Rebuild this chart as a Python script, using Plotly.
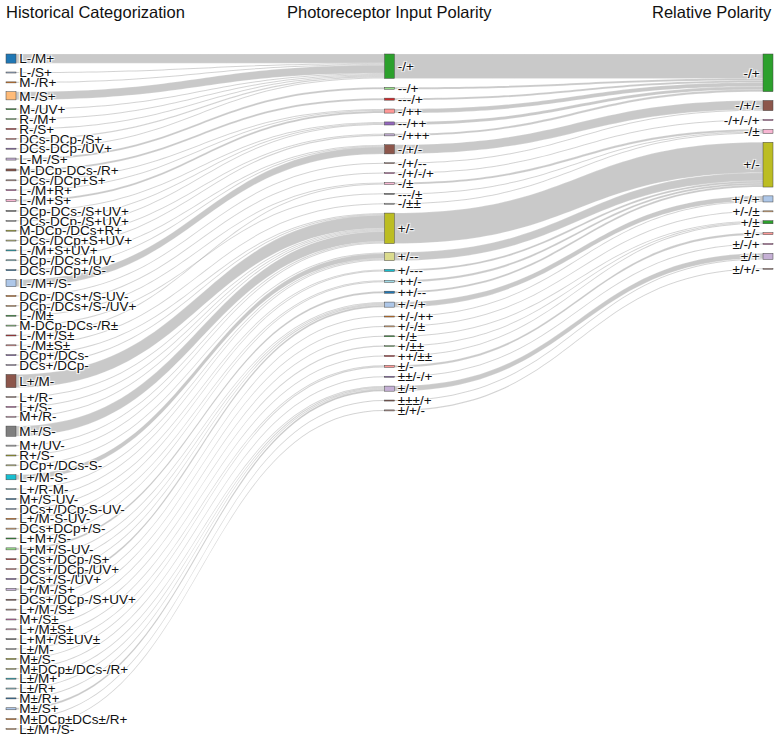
import plotly.graph_objects as go

left_labels = [
    "L-/M+", "L-/S+", "M-/R+", "M-/S+", "M-/UV+", "R-/M+", "R-/S+", "DCs-DCp-/S+",
    "DCs-DCp-/UV+", "L-M-/S+", "M-DCp-DCs-/R+", "DCs-/DCp+S+", "L-/M+R+", "L-/M+S+",
    "DCp-DCs-/S+UV+", "DCs-DCp-/S+UV+", "M-DCp-/DCs+R+", "DCs-/DCp+S+UV+", "L-/M+S+UV+",
    "DCp-/DCs+/UV-", "DCs-/DCp+/S-", "L-/M+/S-", "DCp-/DCs+/S-UV-", "DCp-/DCs+/S-/UV+",
    "L-/M±", "M-DCp-DCs-/R±", "L-/M+/S±", "L-/M±S±", "DCp+/DCs-", "DCs+/DCp-",
    "L+/M-", "L+/R-", "L+/S-", "M+/R-", "M+/S-", "M+/UV-", "R+/S-", "DCp+/DCs-S-",
    "L+/M-S-", "L+/R-M-", "M+/S-UV-", "DCs+/DCp-S-UV-", "L+/M-S-UV-", "DCs+DCp+/S-",
    "L+M+/S-", "L+M+/S-UV-", "DCs+/DCp-/S+", "DCs+/DCp-/UV+", "DCs+/S-/UV+", "L+/M-/S+",
    "DCs+/DCp-/S+UV+", "L+/M-/S±", "M+/S±", "L+/M±S±", "L+M+/S±UV±", "L±/M-", "M±/S-",
    "M±DCp±/DCs-/R+", "L±/M+", "L±/R+", "M±/R+", "M±/S+", "M±DCp±DCs±/R+", "L±/M+/S-",
]
left_values = [
    9, 1, 1, 8, 1, 1, 1, 1,
    1, 2, 2, 1, 1, 2,
    1, 1, 1, 1, 1,
    1, 1, 7, 1, 1,
    1, 1, 1, 1, 1, 1,
    13, 1, 1, 1, 10, 1, 1, 1,
    5, 1, 1, 1, 1, 1,
    1, 2, 1, 1, 1, 2,
    1, 1, 1, 1, 1, 1, 1,
    1, 1, 1, 1, 2, 1, 1,
]
left_targets = [
    "-/+", "-/+", "-/+", "-/+", "-/+", "-/+", "-/+", "-/+",
    "-/+", "--/+", "---/+", "-/++", "-/++", "-/++",
    "--/++", "--/++", "--/++", "-/+++", "-/+++",
    "-/+/-", "-/+/-", "-/+/-", "-/+/--", "-/+/-/+",
    "-/±", "---/±", "-/±", "-/±±", "+/-", "+/-",
    "+/-", "+/-", "+/-", "+/-", "+/-", "+/-", "+/-", "+/--",
    "+/--", "+/--", "+/--", "+/---", "+/---", "++/-",
    "++/-", "++/--", "+/-/+", "+/-/+", "+/-/+", "+/-/+",
    "+/-/++", "+/-/±", "+/±", "+/±±", "++/±±", "±/-", "±/-",
    "±±/-/+", "±/+", "±/+", "±/+", "±/+", "±±±/+", "±/+/-",
]

mid_labels = [
    "-/+", "--/+", "---/+", "-/++", "--/++", "-/+++", "-/+/-", "-/+/--", "-/+/-/+",
    "-/±", "---/±", "-/±±", "+/-", "+/--", "+/---", "++/-", "++/--", "+/-/+",
    "+/-/++", "+/-/±", "+/±", "+/±±", "++/±±", "±/-", "±±/-/+", "±/+", "±±±/+", "±/+/-",
]
mid_targets = [
    "-/+", "-/+", "-/+", "-/+", "-/+", "-/+", "-/+/-", "-/+/-", "-/+/-/+",
    "-/±", "-/±", "-/±", "+/-", "+/-", "+/-", "+/-", "+/-", "+/-/+",
    "+/-/+", "+/-/±", "+/±", "+/±", "+/±", "±/-", "±/-/+", "±/+", "±/+", "±/+/-",
]

right_labels = [
    "-/+", "-/+/-", "-/+/-/+", "-/±", "+/-", "+/-/+", "+/-/±", "+/±", "±/-", "±/-/+",
    "±/+", "±/+/-",
]

column_titles = ["Historical Categorization", "Photoreceptor Input Polarity", "Relative Polarity"]

palette = ['#1f77b4', '#aec7e8', '#ff7f0e', '#ffbb78', '#2ca02c', '#98df8a', '#d62728',
           '#ff9896', '#9467bd', '#c5b0d5', '#8c564b', '#c49c94', '#e377c2', '#f7b6d2',
           '#7f7f7f', '#c7c7c7', '#bcbd22', '#dbdb8d', '#17becf', '#9edae5']

# ---------------- layout parameters ----------------
FIG_W, FIG_H = 778, 740
ML, MR, MT, MB = 6, 5, 54, 0
PW, PH = FIG_W - ML - MR, FIG_H - MT - MB
THICK = 10
GAP = 8.85           # vertical gap between stacked nodes (px)
PX_PER_UNIT = 1.017  # node height per unit of value (px)

labels = left_labels + mid_labels + right_labels
color_map = {}
for name in labels:
    if name not in color_map:
        color_map[name] = palette[len(color_map) % len(palette)]
node_colors = [color_map[n] for n in labels]

nL, nM, nR = len(left_labels), len(mid_labels), len(right_labels)
mid_index = {n: nL + i for i, n in enumerate(mid_labels)}
right_index = {n: nL + nM + i for i, n in enumerate(right_labels)}

src, tgt, val = [], [], []
mid_in = {n: 0 for n in mid_labels}
for i, (t, v) in enumerate(zip(left_targets, left_values)):
    src.append(i); tgt.append(mid_index[t]); val.append(v)
    mid_in[t] += v
right_in = {n: 0 for n in right_labels}
for n, t in zip(mid_labels, mid_targets):
    src.append(mid_index[n]); tgt.append(right_index[t]); val.append(mid_in[n])
    right_in[t] += mid_in[n]

mid_values = [mid_in[n] for n in mid_labels]
right_values = [right_in[n] for n in right_labels]
V = sum(left_values)
ky = PX_PER_UNIT

# plotly scales nodes with ky = (H - (L-1)*py)/sum ; a hidden balancing flow (drawn
# outside the visible area) makes the scale match the reference's top-stacked columns
n_col0 = nL + 1
py = min(GAP, 2.0 / 3.0 * PH / (n_col0 - 1))
D = (PH - (n_col0 - 1) * py) / ky - V


def stack(values):
    ys, y = [], 0.0
    for v in values:
        h = v * ky
        ys.append((y + h / 2) / PH)
        y += h + GAP
    return ys


xs = ([THICK / 2 / PW] * nL + [0.5] * nM + [1 - THICK / 2 / PW] * nR)
ys = stack(left_values) + stack(mid_values) + stack(right_values)

labels_all = labels + ["", ""]
colors_all = node_colors + ["rgba(0,0,0,0)", "rgba(0,0,0,0)"]
xs += [0.3, 0.35]
ys += [1.8, 1.8]
src.append(len(labels)); tgt.append(len(labels) + 1); val.append(D)
link_colors = ["rgba(0,0,0,0.21)"] * (len(val) - 1) + ["rgba(0,0,0,0)"]

fig = go.Figure(go.Sankey(
    arrangement="fixed",
    hoverinfo="none",
    node=dict(label=labels_all, color=colors_all, pad=GAP, thickness=THICK,
              x=xs, y=ys, line=dict(color="#444", width=0.5)),
    link=dict(source=src, target=tgt, value=val, color=link_colors,
              line=dict(color="white", width=0.2)),
    textfont=dict(family="Arial", size=13.5, color="#111"),
))

anns = []
for text, x, anchor, shift in zip(column_titles, [0, 0.5, 1], ["left", "center", "right"], [-2, 0, 1]):
    anns.append(dict(text=text, x=x, y=1, xref="paper", yref="paper", xanchor=anchor,
                     yanchor="middle", yshift=42, xshift=shift, showarrow=False,
                     font=dict(family="Arial", size=16.5, color="#111")))

fig.update_layout(width=FIG_W, height=FIG_H, margin=dict(l=ML, r=MR, t=MT, b=MB),
                  paper_bgcolor="white", annotations=anns)
fig.write_html("out.html")
